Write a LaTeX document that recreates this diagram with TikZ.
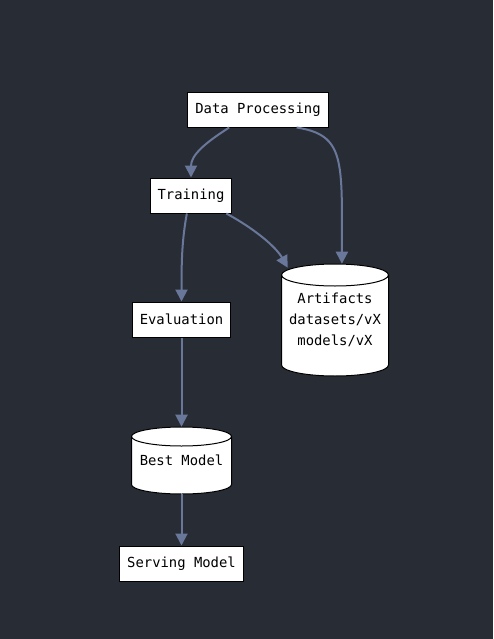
\documentclass[tikz,border=0pt]{standalone}
\usepackage{fontspec}
\setmonofont{DejaVu Sans Mono}
\usetikzlibrary{arrows.meta, calc}
\definecolor{bgdark}{HTML}{282C34}
\definecolor{edgegrey}{HTML}{69779A}
\newcommand{\drawdb}[5]{
    \filldraw[fill=white, draw=black, line width=0.75pt] (#1-#3, #2+#4-#5) -- (#1-#3, #2-#4+#5)
        arc[start angle=180, end angle=360, x radius=#3, y radius=#5] -- (#1+#3, #2+#4-#5)
        arc[start angle=0, end angle=180, x radius=#3, y radius=#5] -- cycle;
    \draw[line width=0.75pt] (#1-#3, #2+#4-#5) arc[start angle=180, end angle=360, x radius=#3, y radius=#5];
}
\tikzset{
    stepbox/.style={draw=black, fill=white, line width=0.75pt, minimum height=26.25pt, inner xsep=5.7pt,
        font=\ttfamily\fontsize{10.4}{16}\selectfont},
    dbtext/.style={inner sep=0pt, align=center, font=\ttfamily\fontsize{10.4}{16}\selectfont},
    flow/.style={draw=edgegrey, line width=1.5pt, -{Triangle[length=9pt, width=9pt]}}
}

\begin{document}
\begin{tikzpicture}[x=0.75pt, y=0.75pt]
        \fill[bgdark] (0, 0) rectangle (493, -639);
        \useasboundingbox (0, 0) rectangle (493, -639);
        \node[stepbox] (dp) at (258, -109.5) {Data Processing};
        \node[stepbox] (tr) at (191, -195.5) {Training};
        \node[stepbox] (ev) at (181.5, -319.5) {Evaluation};
        \node[stepbox] (sv) at (181.5, -563.5) {Serving Model};
        \drawdb{335}{-320}{53.5}{56}{11}
        \node[dbtext, minimum width=80.25pt, minimum height=84pt] (art) at (335, -320) {Artifacts\\datasets/vX\\models/vX};
        \drawdb{181.5}{-460.5}{50}{33.5}{9.5}
        \node[dbtext, minimum width=75pt, minimum height=50.25pt] (bm) at (181.5, -460.5) {Best Model};
        \draw[flow] (dp.212) .. controls (205, -143) and (191, -155) .. (tr.north);
        \draw[flow] (dp.335) .. controls (345, -135) and (342, -160) .. (art.83);
        \draw[flow] (tr.333) .. controls (255, -229) and (276, -247) .. ($(art.north west)+(6.5, -4)$);
        \draw[flow] (tr.257) .. controls (182, -240) and (181.5, -260) .. (ev.north);
        \draw[flow] (ev.south) -- (bm.north);
        \draw[flow] (bm.south) -- (sv.north);
    \end{tikzpicture}
\end{document}
